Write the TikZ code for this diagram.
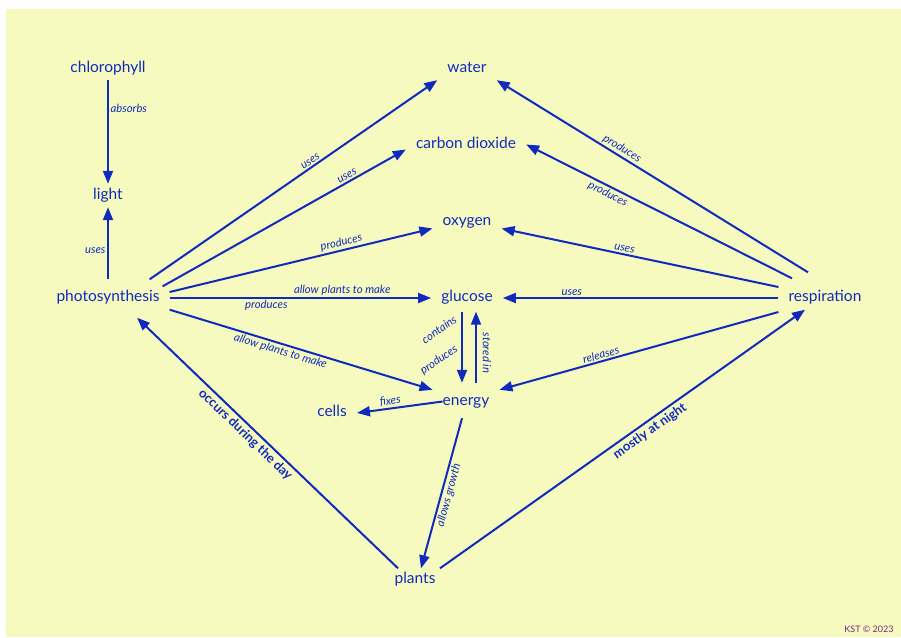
\documentclass[tikz,border=0pt]{standalone}
\usepackage{fontspec}
\setmainfont{Lato}
\usetikzlibrary{arrows.meta}
\definecolor{cblue}{RGB}{16,42,190}
\definecolor{bgyel}{RGB}{247,250,190}
\definecolor{kstpurple}{RGB}{115,40,135}
\begin{document}
\begin{tikzpicture}[x=1pt,y=-1pt,
  concept/.style={text=cblue, font=\fontsize{15.5}{18}\selectfont, inner xsep=10pt, inner ysep=5pt, text height=10pt, text depth=3pt},
  arr/.style={draw=cblue, line width=2pt, -{Triangle[length=13pt,width=10pt]}},
  lbl/.style={text=cblue, font=\fontsize{11.3}{13}\selectfont\itshape, inner sep=1.5pt},
  blbl/.style={text=cblue, font=\fontsize{13}{15}\selectfont\bfseries, inner sep=2.5pt}]
\fill[white] (0,0) rectangle (901,637);
\fill[bgyel] (6,9) rectangle (901,637);
\useasboundingbox (0,0) rectangle (901,637);

\node[concept] (chl) at (108,68.5) {chlorophyll};
\node[concept] (light) at (108,195.5) {light};
\node[concept] (photo) at (108,298) {photosynthesis};
\node[concept] (water) at (467,68.5) {water};
\node[concept] (co2) at (466,144.5) {carbon dioxide};
\node[concept] (oxy) at (467,221.5) {oxygen};
\node[concept] (glu) at (467,298) {glucose};
\node[concept] (energy) at (466,401.5) {energy};
\node[concept] (cells) at (332,413) {cells};
\node[concept] (plants) at (415,580) {plants};
\node[concept] (resp) at (825,298) {respiration};

\draw[arr] (chl) -- (light) node[lbl,pos=.27,right]{absorbs};
\draw[arr] ([yshift=7pt]photo.north) -- (light) node[lbl,pos=.4,left]{uses};
\draw[arr] ([xshift=-20pt,yshift=7pt]photo.north east) -- (water.south west) node[lbl,pos=.57,sloped,above]{uses};
\draw[arr] ([xshift=-7pt]photo.north east) -- ([yshift=-5pt]co2.west) node[lbl,pos=.77,sloped,above]{uses};
\draw[arr] ([yshift=6pt]photo.east) -- ([yshift=-7pt]oxy.west) node[lbl,pos=.66,sloped,above]{produces};
\draw[arr] (photo.east) -- (glu.west) node[lbl,pos=.66,above]{allow plants to make} node[lbl,pos=.37,below]{produces};
\draw[arr] (photo.south east) -- (energy.north west) node[lbl,pos=.43,sloped,below]{allow plants to make};

\draw[arr] ([xshift=-5pt,yshift=-2pt]glu.south) -- ([xshift=-4pt,yshift=7pt]energy.north)
  node[lbl,pos=.25,xshift=-23pt,rotate=35]{contains}
  node[lbl,pos=.68,xshift=-23pt,rotate=35]{produces};
\draw[arr] ([xshift=10pt,yshift=7pt]energy.north) -- ([xshift=9pt,yshift=-2pt]glu.south)
  node[lbl,pos=.42,xshift=11pt,rotate=-90]{stored in};

\draw[arr] ([xshift=10pt]energy.west) -- (cells.east) node[lbl,pos=.6,sloped,above]{fixes};
\draw[arr] ([xshift=-4pt,yshift=-5pt]energy.south) -- ([xshift=6pt]plants.north) node[lbl,pos=.5,sloped,below]{allows growth};

\draw[arr] ([xshift=-17pt]plants.north) -- ([xshift=29pt,yshift=-8pt]photo.south) node[blbl,pos=.56,sloped,below]{occurs during the day};
\draw[arr] ([xshift=25pt]plants.north) -- ([xshift=-20pt]resp.south) node[blbl,pos=.56,sloped,below]{mostly at night};

\draw[arr] ([xshift=-17pt,yshift=14pt]resp.north) -- (water.south east) node[lbl,pos=.61,sloped,above]{produces};
\draw[arr] ([xshift=-33pt,yshift=8pt]resp.north) -- (co2.east) node[lbl,pos=.68,sloped,below]{produces};
\draw[arr] ([yshift=11pt]resp.west) -- ([yshift=-7pt]oxy.east) node[lbl,pos=.56,sloped,above]{uses};
\draw[arr] (resp.west) -- (glu.east) node[lbl,pos=.75,above]{uses};
\draw[arr] ([yshift=-14pt]resp.west) -- (energy.north east) node[lbl,pos=.63,sloped,above]{releases};

\node[text=kstpurple, font=\fontsize{9}{10}\selectfont] (kst) at (869,629) {KST © 2023};
\end{tikzpicture}
\end{document}
